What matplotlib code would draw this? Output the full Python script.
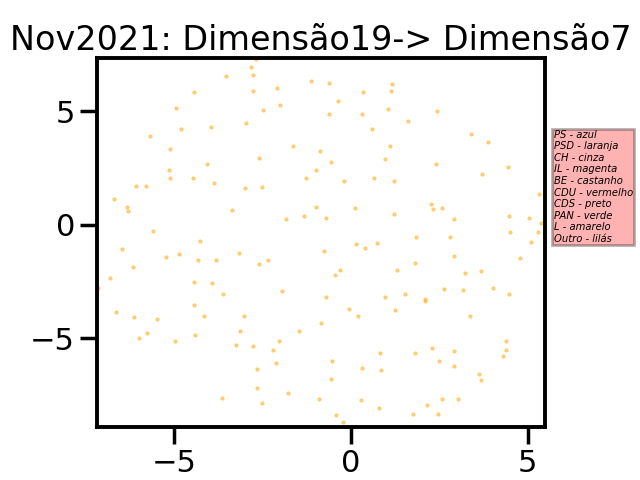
import matplotlib
matplotlib.use("Agg")
import matplotlib.pyplot as plt

# points
x_vals = [
    -2.82, -2.76, -3.55, -1.12, -0.62, -4.45, -2.76, -2.08, -4.96, -2.00, -2.48, -0.62,
    -2.96, -4.82, -3.97, -5.70, -5.13, -1.63, -0.87, -2.59, -4.06, -0.56, -5.16, -0.98,
    -5.13, -4.48, -1.26, -3.89, -6.09, -5.81, -2.99, -2.53, -6.71, -6.35, -6.32, -3.38,
    -0.98, -1.32, -1.83, -0.70, -5.61, -2.69,
    1.17, 1.14, 0.35, -0.36, 1.05, 2.44, 0.32, 1.62, 0.60, 3.40, 3.88, 1.11,
    0.97, 2.41, 4.44, 3.71, 0.66, -0.19, 1.22, 5.32, 2.27, 2.32, 2.58, 0.12,
    1.22, 4.47, 5.04, 2.92, 5.37, 4.50, 5.29, 1.84, 2.81,
    -4.26, -6.49, -5.22, -4.88, -4.34, -3.81, -3.16, -2.59, -2.36, -0.75, -6.18, -6.83,
    -7.17, -4.45, -3.92, -3.61, -1.94, -0.70, -4.45, -4.17, -3.04, -6.66, -6.15, -5.50,
    -0.84, -3.13, -1.46, -5.78, -6.01, -4.40, -4.99, -2.05, -3.24, -2.76, -2.22, -2.11,
    -2.65, -0.58, -2.65, -1.77, -3.64, -0.90, -2.51, -0.83,
    5.09, 0.15, 0.74, 0.40, 2.92, 4.78, 1.82, -0.30, -0.44, 1.31, 3.23, 3.68,
    0.97, 1.53, 2.64, 3.17, 4.02, 4.47, 2.10, 2.10, -0.05, 0.21, 1.25, 3.37,
    4.39, 4.39, 4.30, 2.30, 2.92, 0.83, 1.82, -0.53, 2.49, 2.92, 0.32, 0.86,
    3.62, 3.68, 0.29, 0.80, 2.58, 3.03, 2.16, -0.42, 1.76, 2.47, -0.22,
]
y_vals = [
    6.96, 6.61, 6.57, 6.35, 6.26, 5.86, 5.91, 6.04, 5.16, 5.29, 5.07, 4.86,
    4.50, 4.20, 4.33, 3.93, 3.36, 3.45, 3.23, 2.93, 2.66, 2.75, 2.40, 2.40,
    2.05, 2.05, 2.05, 1.83, 1.70, 1.70, 1.61, 1.65, 1.13, 0.78, 0.60, 0.64,
    0.78, 0.38, 0.25, 0.29, -0.28, 7.30,
    6.21, 5.91, 5.86, 5.47, 5.12, 5.03, 4.86, 4.59, 4.20, 4.02, 3.67, 3.45,
    2.88, 2.66, 2.53, 2.22, 2.05, 1.92, 1.92, 1.35, 0.91, 0.69, 0.73, 0.73,
    0.47, 0.38, 0.29, 0.25, 0.07, -0.32, -0.32, -0.54, -0.54,
    -0.71, -1.07, -1.42, -1.29, -1.55, -1.55, -1.24, -1.72, -1.55, -1.15, -1.86, -2.34,
    -2.78, -2.51, -2.56, -3.04, -2.91, -3.17, -3.52, -4.00, -4.00, -3.83, -4.05, -4.14,
    -4.31, -4.66, -4.66, -4.75, -4.97, -4.84, -5.14, -5.10, -5.28, -5.36, -5.50, -6.07,
    -6.37, -6.81, -7.21, -7.43, -7.64, -7.69, -7.86, -8.90,
    -0.76, -0.85, -0.80, -1.02, -1.37, -1.46, -1.68, -1.99, -2.21, -1.99, -2.12, -2.03,
    -3.17, -3.04, -2.82, -2.86, -2.78, -3.04, -3.26, -3.35, -3.70, -4.00, -3.74, -4.00,
    -5.14, -5.50, -5.76, -5.41, -5.54, -5.63, -5.67, -5.98, -5.98, -6.24, -6.29, -6.42,
    -6.59, -6.86, -7.73, -8.08, -7.69, -7.69, -7.95, -8.39, -8.35, -8.35, -8.70,
]

legend_lines = [
    "PS - azul", "PSD - laranja", "CH - cinza", "IL - magenta", "BE - castanho",
    "CDU - vermelho", "CDS - preto", "PAN - verde", "L - amarelo", "Outro - lilás",
]

plt.rcParams.update({
    "axes.linewidth": 2.8,
    "xtick.major.width": 2.5,
    "ytick.major.width": 2.5,
    "xtick.major.size": 12,
    "ytick.major.size": 12,
    "xtick.labelsize": 22,
    "ytick.labelsize": 22,
    "axes.titlesize": 24,
})

fig, ax = plt.subplots(figsize=(6.4, 4.8), dpi=100)
fig.subplots_adjust(left=0.1508, right=0.8511, top=0.8792, bottom=0.1104)

ax.scatter(x_vals, y_vals, s=6, color="orange", alpha=0.5, linewidths=0.5)
ax.set_xlim(-7.2, 5.48)
ax.set_ylim(-8.91, 7.35)
ax.set_xticks([-5, 0, 5])
ax.set_yticks([-5, 0, 5])
ax.set_title("Nov2021: Dimensão19-> Dimensão7")

# colour key sits outside the axes, in a pink box
ax.text(5.73, 1.67, "\n".join(legend_lines), fontsize=7.2, style="italic", va="center",
        bbox=dict(facecolor="red", alpha=0.3, pad=0.8, linewidth=2))

fig.savefig("out.png", dpi=100)
